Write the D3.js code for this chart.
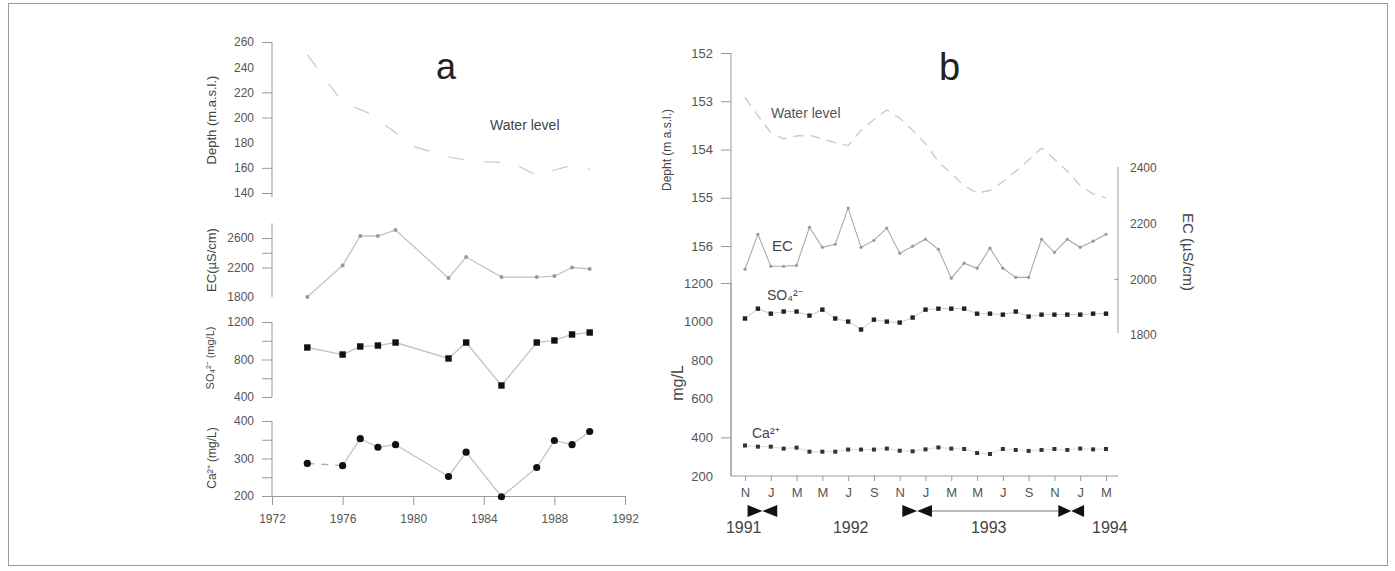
<!DOCTYPE html>
<html>
<head>
<meta charset="utf-8">
<script src="https://cdn.jsdelivr.net/npm/d3@7/dist/d3.min.js"></script>
<style>
    body { margin: 0; background: #fff; }
    svg { display: block; font-family: Arial, "Liberation Sans", sans-serif; }
    .axis text { fill: #555; }
    .axis line, .axis path { stroke: #999; }
</style>
</head>
<body>
<svg id="chart" width="1395" height="571"></svg>
<script>
'use strict';

// ---- panel a (yearly data) ----
const yearsA = [1974, 1976, 1977, 1978, 1979, 1982, 1983, 1985, 1987, 1988, 1989, 1990];
const ecA = [1800, 2227, 2627, 2627, 2708, 2057, 2342, 2070, 2070, 2084, 2200, 2180];
const so4A = [928, 853, 939, 949, 981, 811, 981, 523, 981, 1003, 1067, 1088];
const caA = [287, 281, 353, 330, 337, 252, 317, 198, 276, 348, 337, 372];
const wlYearsA = [1974, 1975, 1976, 1977.4, 1979, 1980, 1982.2, 1983.7, 1985.6, 1987, 1988.7, 1990];
const wlA = [250, 231, 212, 204, 188, 177, 168, 165, 164, 154, 161, 159];
const yearTicksA = [1972, 1976, 1980, 1984, 1988, 1992];

// ---- panel b (monthly data, index 0 = Nov 1991) ----
const monthIdxB = d3.range(0, 29);
const monthTicksB = [0, 2, 4, 6, 8, 10, 12, 14, 16, 18, 20, 22, 24, 26, 28];
const monthLabelsB = ["N", "J", "M", "M", "J", "S", "N", "J", "M", "M", "J", "S", "N", "J", "M"];
const yearLabelsB = [["1991", -0.1], ["1992", 8.2], ["1993", 18.9], ["1994", 28.3]];
const periodsB = [[0.2, 2.5], [12.2, 14.5], [24.3, 26.3]];
const periodLinkB = [14.5, 24.3];
const wlB = [152.92, 153.3, 153.65, 153.78, 153.72, 153.7, 153.78, 153.86, 153.92, 153.6,
    153.38, 153.18, 153.35, 153.6, 153.88, 154.25, 154.5, 154.75, 154.9, 154.85,
    154.67, 154.45, 154.22, 153.97, 154.2, 154.45, 154.75, 154.92, 155.0];
const ecB = [2036, 2162, 2047, 2047, 2050, 2187, 2115, 2126, 2256, 2115,
    2140, 2184, 2094, 2119, 2144, 2108, 2004, 2058, 2040, 2112,
    2040, 2007, 2007, 2144, 2097, 2144, 2115, 2137, 2162];
const so4B = [1016, 1067, 1041, 1052, 1052, 1031, 1062, 1016, 1000, 959,
    1010, 1000, 995, 1021, 1062, 1067, 1067, 1067, 1041, 1041,
    1036, 1052, 1026, 1036, 1036, 1036, 1036, 1041, 1041];
const caB = [358, 352, 352, 342, 347, 326, 326, 326, 337, 337,
    337, 342, 331, 328, 338, 348, 342, 340, 319, 314,
    340, 335, 330, 335, 340, 335, 342, 338, 340];

const svg = d3.select("#chart");

// frame
svg.append("rect")
    .attr("x", 8.5).attr("y", 3.5).attr("width", 1379).attr("height", 562)
    .attr("fill", "none").attr("stroke", "#999");

// scales, panel a
const xA = d3.scaleLinear().domain([1972, 1992]).range([272, 625]);
const yDepthA = d3.scaleLinear().domain([140, 260]).range([193, 42]);
const yEcA = d3.scaleLinear().domain([1800, 2600]).range([297, 238]);
const ySo4A = d3.scaleLinear().domain([400, 1200]).range([397, 322]);
const yCaA = d3.scaleLinear().domain([200, 400]).range([496, 421]);

// scales, panel b
const xB = d3.scaleLinear().domain([0, 28]).range([745, 1106]);
const yDepthB = d3.scaleLinear().domain([152, 156]).range([53, 246]);
const yMgB = d3.scaleLinear().domain([200, 1200]).range([476, 283]);
const yEcB = d3.scaleLinear().domain([1800, 2400]).range([335, 168]);

// left axis: values get ticks, only "labelled" get text, only "marked" keep a tick line
function leftAxis(x, scale, values, labelled, marked, top, bottom, size) {
    const g = svg.append("g")
        .attr("class", "axis")
        .attr("transform", "translate(" + x + ",0)")
        .style("font-size", size + "px")
        .call(d3.axisLeft(scale)
            .tickValues(values)
            .tickSize(10)
            .tickPadding(8)
            .tickFormat(d => labelled.includes(d) ? d : ""));
    g.select(".domain").remove();
    g.selectAll(".tick line").attr("opacity", d => marked.includes(d) ? 1 : 0);
    g.append("line")
        .attr("y1", top).attr("y2", bottom)
        .attr("stroke", "#999");
    return g;
}

function rotatedLabel(x, y, txt, size, angle) {
    return svg.append("text")
        .attr("transform", "translate(" + x + "," + y + ") rotate(" + angle + ")")
        .attr("text-anchor", "middle")
        .style("font-size", size + "px")
        .attr("fill", "#444")
        .text(txt);
}

// ===== panel a =====
leftAxis(272, yDepthA, [140, 160, 180, 200, 220, 240, 260], [140, 160, 180, 200, 220, 240, 260],
    [140, 160, 200, 220, 260], 42, 197, 12);
leftAxis(272, yEcA, [1800, 2200, 2400, 2600], [1800, 2200, 2600], [2200, 2400, 2600],
    yEcA(2800), 297, 12);
leftAxis(272, ySo4A, [400, 600, 800, 1000, 1200], [400, 800, 1200], [400, 600, 800, 1000, 1200],
    322, 397, 12);
leftAxis(272, yCaA, [200, 250, 300, 350, 400], [200, 300, 400], [200, 250, 300, 350, 400],
    421, 496, 12);

svg.append("g")
    .attr("class", "axis")
    .attr("transform", "translate(0,496)")
    .style("font-size", "12px")
    .call(d3.axisBottom(xA).tickValues(yearTicksA).tickSize(9).tickSizeOuter(0).tickPadding(9)
        .tickFormat(d3.format("d")));

rotatedLabel(216, 120, "Depth (m.a.s.l.)", 13, -90);
rotatedLabel(216, 260, "EC(µS/cm)", 13, -90);
rotatedLabel(214, 358, "SO₄²⁻ (mg/L)", 11, -90);
rotatedLabel(216, 458, "Ca²⁺ (mg/L)", 12, -90);

svg.append("text").attr("x", 436).attr("y", 79)
    .style("font-size", "36px").attr("fill", "#222").text("a");
svg.append("text").attr("x", 490).attr("y", 130)
    .style("font-size", "14px").attr("fill", "#444").text("Water level");

// water level a (faint, widely dashed)
svg.append("path")
    .datum(d3.zip(wlYearsA, wlA))
    .attr("fill", "none")
    .attr("stroke", "#c8c8c8")
    .attr("stroke-width", 1.2)
    .attr("stroke-dasharray", "16,20")
    .attr("d", d3.line().x(d => xA(d[0])).y(d => yDepthA(d[1])));

// EC a
const ecPtsA = d3.zip(yearsA, ecA);
svg.append("path")
    .datum(ecPtsA)
    .attr("fill", "none").attr("stroke", "#c4c4c4").attr("stroke-width", 1.3)
    .attr("d", d3.line().x(d => xA(d[0])).y(d => yEcA(d[1])));
svg.selectAll("circle.ecA").data(ecPtsA).enter().append("circle")
    .attr("class", "ecA")
    .attr("cx", d => xA(d[0])).attr("cy", d => yEcA(d[1]))
    .attr("r", 2).attr("fill", "#999");

// SO4 a
const so4PtsA = d3.zip(yearsA, so4A);
svg.append("path")
    .datum(so4PtsA)
    .attr("fill", "none").attr("stroke", "#c4c4c4").attr("stroke-width", 1.3)
    .attr("d", d3.line().x(d => xA(d[0])).y(d => ySo4A(d[1])));
svg.selectAll("rect.so4A").data(so4PtsA).enter().append("rect")
    .attr("class", "so4A")
    .attr("x", d => xA(d[0]) - 3.2).attr("y", d => ySo4A(d[1]) - 3.2)
    .attr("width", 6.4).attr("height", 6.4).attr("fill", "#111");

// Ca a (first interval drawn dashed, as in the source)
const caPtsA = d3.zip(yearsA, caA);
svg.append("path")
    .datum(caPtsA.slice(0, 2))
    .attr("fill", "none").attr("stroke", "#aaa").attr("stroke-width", 1.3)
    .attr("stroke-dasharray", "7,7")
    .attr("d", d3.line().x(d => xA(d[0])).y(d => yCaA(d[1])));
svg.append("path")
    .datum(caPtsA.slice(1))
    .attr("fill", "none").attr("stroke", "#c4c4c4").attr("stroke-width", 1.3)
    .attr("d", d3.line().x(d => xA(d[0])).y(d => yCaA(d[1])));
svg.selectAll("circle.caA").data(caPtsA).enter().append("circle")
    .attr("class", "caA")
    .attr("cx", d => xA(d[0])).attr("cy", d => yCaA(d[1]))
    .attr("r", 3.6).attr("fill", "#111");

// ===== panel b =====
leftAxis(731, yDepthB, [152, 153, 154, 155, 156], [152, 153, 154, 155, 156],
    [152, 153, 154, 155, 156], 53, 476, 13);
leftAxis(731, yMgB, [200, 400, 600, 800, 1000, 1200], [200, 400, 600, 800, 1000, 1200],
    [400, 1200], 283, 476, 13);

svg.append("g")
    .attr("class", "axis")
    .attr("transform", "translate(0,476)")
    .style("font-size", "13px")
    .call(d3.axisBottom(xB).tickValues(monthTicksB).tickSize(5).tickSizeOuter(0).tickPadding(7)
        .tickFormat((d, i) => monthLabelsB[i]))
    .select(".domain").remove();
svg.append("line")
    .attr("x1", 731).attr("x2", 1118).attr("y1", 476).attr("y2", 476)
    .attr("stroke", "#999");

// right EC axis
const ecAxisB = svg.append("g")
    .attr("class", "axis")
    .attr("transform", "translate(1118,0)")
    .style("font-size", "12px")
    .call(d3.axisRight(yEcB).tickValues([1800, 2000, 2200, 2400]).tickSize(0).tickPadding(12)
        .tickFormat(d3.format("d")));
ecAxisB.select(".domain").remove();
ecAxisB.append("line").attr("y1", 167).attr("y2", 333).attr("stroke", "#bbb");
ecAxisB.append("line").attr("x1", -4).attr("x2", 0)
    .attr("y1", yEcB(2000)).attr("y2", yEcB(2000)).attr("stroke", "#999");
rotatedLabel(1183, 252, "EC (µS/cm)", 15, 90);

rotatedLabel(671, 150, "Depht (m a.s.l.)", 12, -90);
rotatedLabel(683, 383, "mg/L", 16, -90);

svg.append("text").attr("x", 939).attr("y", 80)
    .style("font-size", "38px").attr("fill", "#222").text("b");
svg.append("text").attr("x", 771).attr("y", 118)
    .style("font-size", "14px").attr("fill", "#555").text("Water level");
svg.append("text").attr("x", 772).attr("y", 251)
    .style("font-size", "15px").attr("fill", "#444").text("EC");
svg.append("text").attr("x", 767).attr("y", 300)
    .style("font-size", "14px").attr("fill", "#444").text("SO₄²⁻");
svg.append("text").attr("x", 752).attr("y", 438)
    .style("font-size", "14px").attr("fill", "#444").text("Ca²⁺");

// water level b
svg.append("path")
    .datum(d3.zip(monthIdxB, wlB))
    .attr("fill", "none")
    .attr("stroke", "#c8c8c8")
    .attr("stroke-width", 1.3)
    .attr("stroke-dasharray", "10,7")
    .attr("d", d3.line().x(d => xB(d[0])).y(d => yDepthB(d[1])));

// EC b
const ecPtsB = d3.zip(monthIdxB, ecB);
svg.append("path")
    .datum(ecPtsB)
    .attr("fill", "none").attr("stroke", "#aaa").attr("stroke-width", 1.1)
    .attr("d", d3.line().x(d => xB(d[0])).y(d => yEcB(d[1])));
svg.selectAll("circle.ecB").data(ecPtsB).enter().append("circle")
    .attr("class", "ecB")
    .attr("cx", d => xB(d[0])).attr("cy", d => yEcB(d[1]))
    .attr("r", 1.6).attr("fill", "#999");

// SO4 b
const so4PtsB = d3.zip(monthIdxB, so4B);
svg.append("path")
    .datum(so4PtsB)
    .attr("fill", "none").attr("stroke", "#ccc").attr("stroke-width", 1)
    .attr("d", d3.line().x(d => xB(d[0])).y(d => yMgB(d[1])));
svg.selectAll("rect.so4B").data(so4PtsB).enter().append("rect")
    .attr("class", "so4B")
    .attr("x", d => xB(d[0]) - 2.2).attr("y", d => yMgB(d[1]) - 2.2)
    .attr("width", 4.4).attr("height", 4.4).attr("fill", "#222");

// Ca b
const caPtsB = d3.zip(monthIdxB, caB);
svg.append("path")
    .datum(caPtsB)
    .attr("fill", "none").attr("stroke", "#ddd").attr("stroke-width", 1)
    .attr("d", d3.line().x(d => xB(d[0])).y(d => yMgB(d[1])));
svg.selectAll("rect.caB").data(caPtsB).enter().append("rect")
    .attr("class", "caB")
    .attr("x", d => xB(d[0]) - 2).attr("y", d => yMgB(d[1]) - 2)
    .attr("width", 4).attr("height", 4).attr("fill", "#333");

// year labels under the month axis
svg.selectAll("text.yearB").data(yearLabelsB).enter().append("text")
    .attr("class", "yearB")
    .attr("x", d => xB(d[1])).attr("y", 533)
    .attr("text-anchor", "middle")
    .style("font-size", "16px").attr("fill", "#444")
    .text(d => d[0]);

// sampling periods: bow-tie markers and link
const bowY = 511, bowH = 6;
svg.append("line")
    .attr("x1", xB(periodLinkB[0])).attr("x2", xB(periodLinkB[1]))
    .attr("y1", bowY).attr("y2", bowY)
    .attr("stroke", "#777").attr("stroke-width", 1.2);
svg.selectAll("path.bow").data(periodsB).enter().append("path")
    .attr("class", "bow")
    .attr("fill", "#111")
    .attr("d", d => {
        const x0 = xB(d[0]), x1 = xB(d[1]), xm = (x0 + x1) / 2;
        return "M" + x0 + "," + (bowY - bowH) + "L" + xm + "," + bowY + "L" + x0 + "," + (bowY + bowH) + "Z" +
            "M" + x1 + "," + (bowY - bowH) + "L" + xm + "," + bowY + "L" + x1 + "," + (bowY + bowH) + "Z";
    });
</script>
</body>
</html>
